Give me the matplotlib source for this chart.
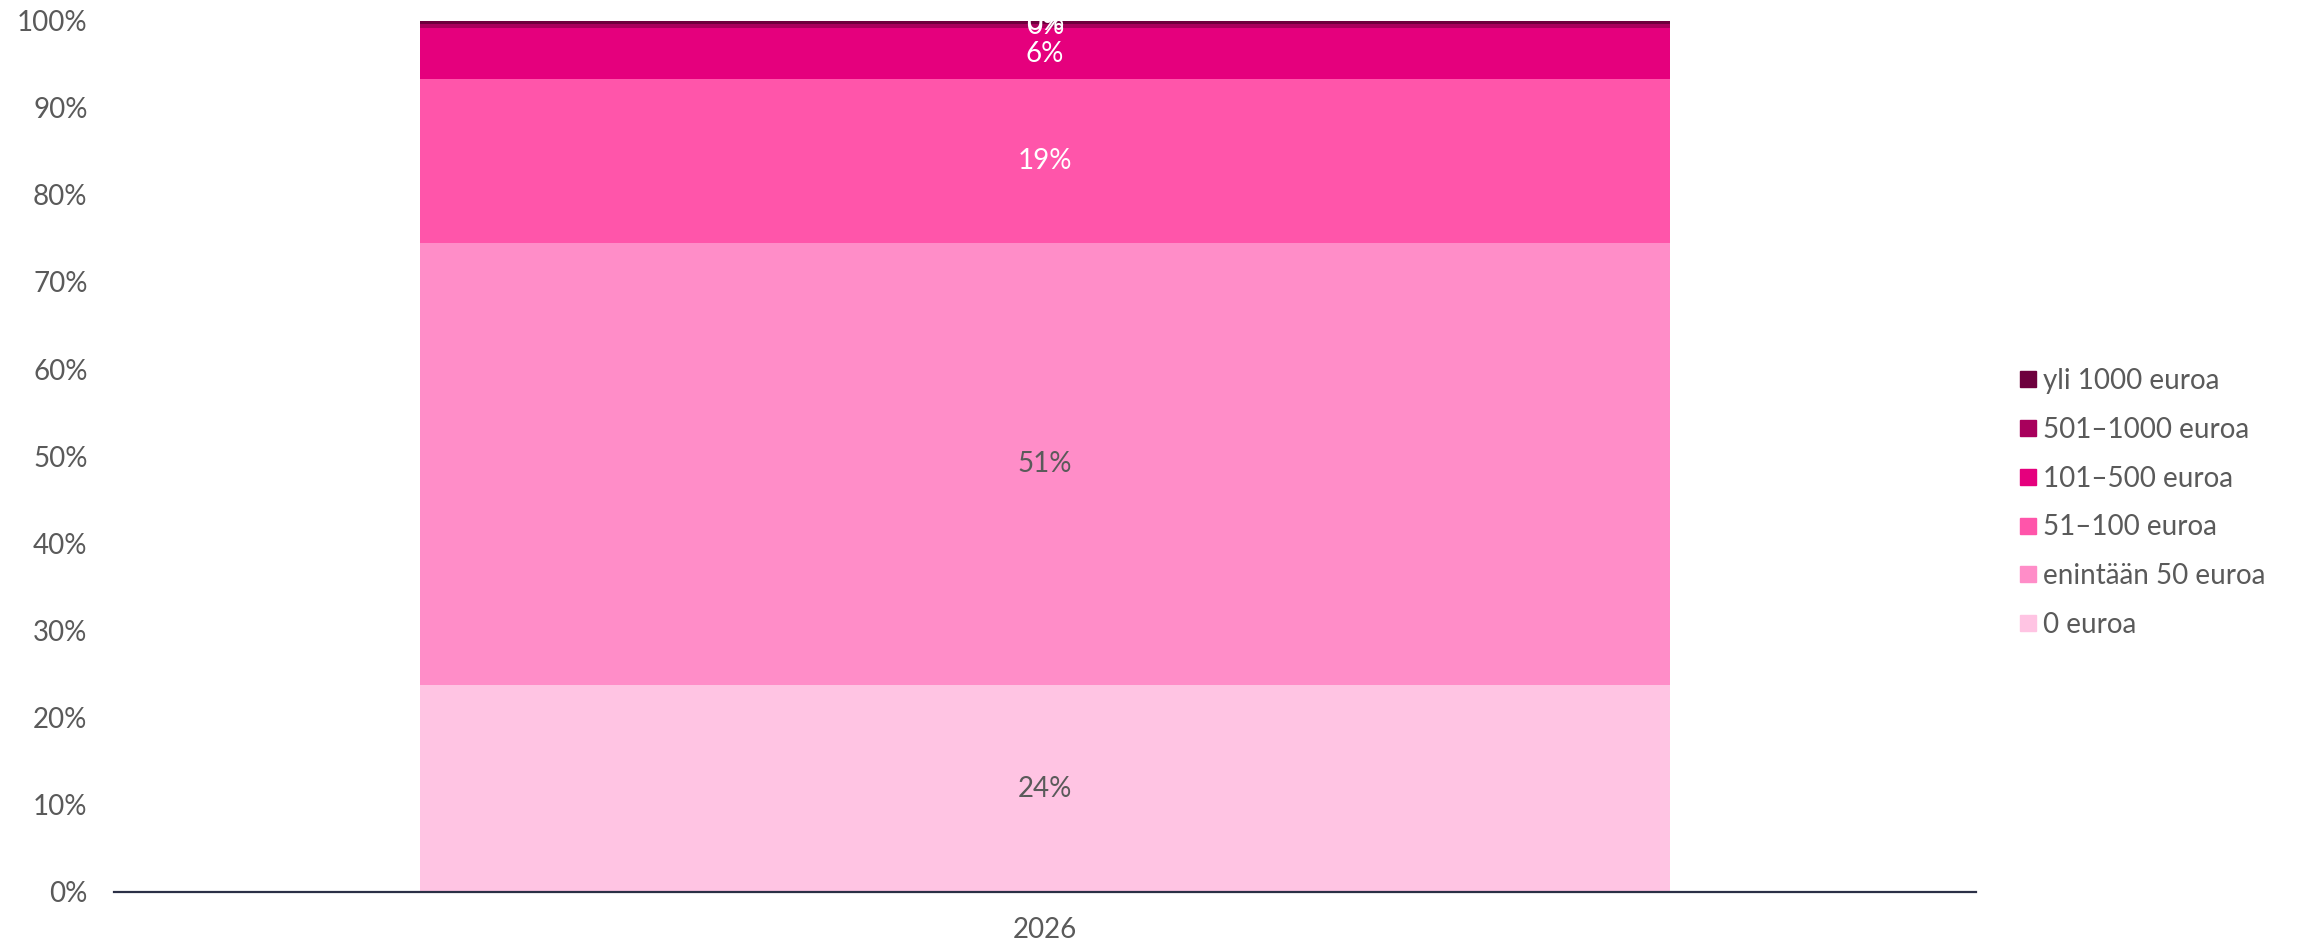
import matplotlib
matplotlib.use("Agg")
import matplotlib.pyplot as plt
from matplotlib.lines import Line2D

categories = ["2026"]
series_names = ["0 euroa", "enintään 50 euroa", "51–100 euroa", "101–500 euroa", "501–1000 euroa", "yli 1000 euroa"]
series_values = [23.7, 50.8, 18.8, 5.8, 0.5, 0.4]
series_labels = ["24%", "51%", "19%", "6%", "0%", "0%"]
colors = ["#FFC4E3", "#FF8DC8", "#FF55AA", "#E5007D", "#A8005C", "#6E003D"]
label_colors = ["#5a5a5a", "#5a5a5a", "white", "white", "white", "white"]
yticks = [0, 10, 20, 30, 40, 50, 60, 70, 80, 90, 100]

plt.rcParams['font.family'] = ['Lato', 'DejaVu Sans']
txt = "#5a5a5a"
fs = 20

fig = plt.figure(figsize=(22.97, 9.44), dpi=100)
ax = fig.add_axes([114/2297, 1-892/944, (1976-114)/2297, (892-20.5)/944])

bottom = 0
for name, v, lab, c, lc in zip(series_names, series_values, series_labels, colors, label_colors):
    ax.bar(categories, [v], bottom=bottom, width=0.671, color=c, label=name)
    ax.text(0, bottom + v/2, lab, ha="center", va="center", fontsize=fs, color=lc)
    bottom += v

ax.set_xlim(-0.5, 0.5)
ax.set_ylim(0, 100)
ax.set_yticks(yticks)
ax.set_yticklabels([f"{t}%" for t in yticks])
for s in ["top", "right", "left"]:
    ax.spines[s].set_visible(False)
ax.spines["bottom"].set_color("#2B3046")
ax.spines["bottom"].set_linewidth(1.6)
ax.tick_params(axis="y", length=0, pad=19, labelsize=fs, labelcolor=txt)
ax.tick_params(axis="x", length=0, pad=18, labelsize=fs, labelcolor=txt)

handles = [Line2D([], [], marker="s", linestyle="none", markersize=11.5,
                  markerfacecolor=c, markeredgecolor=c) for c in colors][::-1]
leg = fig.legend(handles, series_names[::-1], loc="center left",
                 bbox_to_anchor=(2010/2297, 1-503/944), frameon=False,
                 fontsize=fs, labelcolor=txt, handlelength=0.5, handletextpad=0.3,
                 labelspacing=0.82, borderaxespad=0)

fig.savefig("out.png", dpi=100)
